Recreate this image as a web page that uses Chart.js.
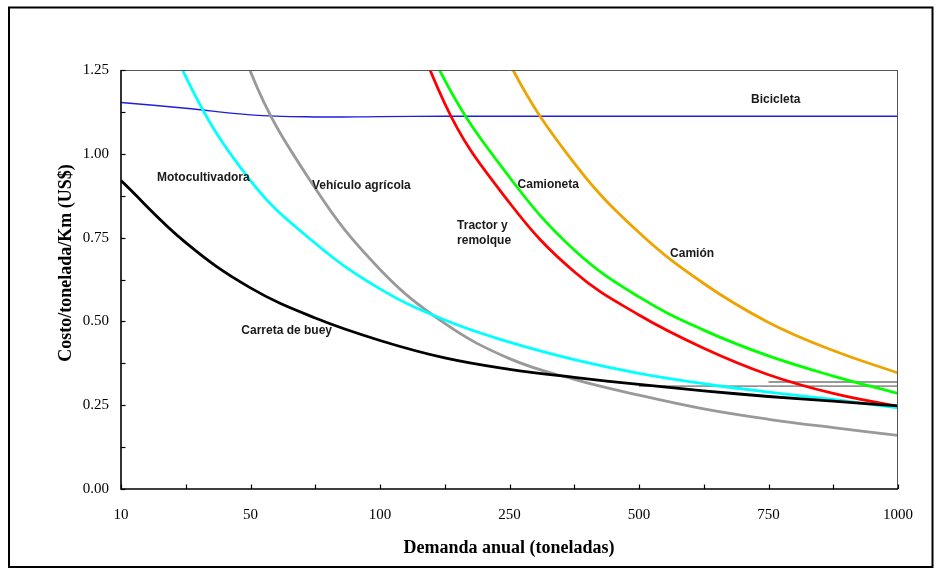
<!DOCTYPE html>
<html><head><meta charset="utf-8">
<script src="https://cdn.jsdelivr.net/npm/chart.js@4.4.1/dist/chart.umd.min.js"></script>
<style>html,body{margin:0;padding:0;background:#fff}#wrap{width:941px;height:575px;position:relative}</style>
</head><body><div id="wrap"><canvas id="c"></canvas></div>
<script>
// Category tick labels (one every second position on the demand axis)
const tickLabels = ['10','50','100','250','500','750','1000'];
// Positions along the demand axis (13 equally spaced ticks)
const positions = [0,1,2,3,4,5,6,7,8,9,10,11,12];

// Series values (cost per ton-km, US$) read at each position; null = not drawn
const carretaDeBuey   = [0.920,0.735,0.600,0.510,0.443,0.391,0.357,0.333,0.312,0.293,0.276,0.262,0.248];
const motocultivadora = [1.72,1.23,0.920,0.733,0.597,0.504,0.438,0.386,0.345,0.314,0.289,0.267,0.242];
const vehiculoAgricola= [null,1.85,1.245,0.897,0.655,0.494,0.389,0.327,0.280,0.239,0.208,0.183,0.160];
const tractorRemolque = [null,null,null,null,1.68,1.15,0.854,0.648,0.519,0.420,0.341,0.285,0.246];
const camioneta       = [null,null,null,null,1.66,1.22,0.930,0.713,0.573,0.474,0.397,0.337,0.285];
const camion          = [null,null,null,null,null,1.72,1.27,0.972,0.765,0.613,0.497,0.413,0.346];
const bicicleta       = [1.153,1.136,1.116,1.110,1.111,1.112,1.112,1.112,1.112,1.112,1.112,1.112,1.112];
const refLineUpper    = [null,null,null,null,null,null,null,null,null,null,0.319,0.319,0.319];
const refLineLower    = [null,null,null,null,null,null,null,null,0.307,0.307,0.307,0.307,0.307];

const yTicks = [0,0.25,0.5,0.75,1.0,1.25];

function pts(arr){ return positions.map((p,i)=>({x:p,y:arr[i]})); }
function ds(label, arr, color, w){
  return {label, data: pts(arr), borderColor: color, backgroundColor: color, borderWidth: w,
    pointRadius: 0, pointHoverRadius: 0, fill: false, tension: 0.4, spanGaps: false};
}

// Text annotations (label, x position in axis units, y value)
const notes = [
  {t:'Bicicleta', x:9.73, y:1.161},
  {t:'Motocultivadora', x:0.556, y:0.929},
  {t:'Vehículo agrícola', x:2.95, y:0.906},
  {t:'Camioneta', x:6.125, y:0.907},
  {t:'Tractor y', x:5.19, y:0.785},
  {t:'remolque', x:5.19, y:0.740},
  {t:'Camión', x:8.48, y:0.701},
  {t:'Carreta de buey', x:1.858, y:0.471}
];

const serif = '"Liberation Serif","Times New Roman",serif';
const sans = '"Liberation Sans",Arial,sans-serif';

const decor = {
  id: 'decor',
  beforeDraw(chart){
    const c = chart.ctx; c.save();
    c.fillStyle = '#fff'; c.fillRect(0,0,chart.width,chart.height);
    c.strokeStyle = '#000'; c.lineWidth = 2;
    c.strokeRect(9, 7.5, 923.5, 559.5);
    c.restore();
  },
  afterDatasetsDraw(chart){
    const c = chart.ctx, a = chart.chartArea, xs = chart.scales.x, ys = chart.scales.y;
    c.save();
    // plot frame
    c.strokeStyle = '#555'; c.lineWidth = 1;
    c.beginPath(); c.moveTo(a.left, a.top+0.5); c.lineTo(a.right, a.top+0.5); c.stroke();
    c.beginPath(); c.moveTo(a.right-0.5, a.top); c.lineTo(a.right-0.5, a.bottom); c.stroke();
    c.strokeStyle = '#000'; c.lineWidth = 1.6;
    c.beginPath(); c.moveTo(a.left, a.top); c.lineTo(a.left, a.bottom); c.lineTo(a.right, a.bottom); c.stroke();
    // ticks
    c.lineWidth = 1.2;
    for (let p = 0; p <= 12; p++){
      const x = Math.round(xs.getPixelForValue(p)) + 0.5;
      c.beginPath(); c.moveTo(x, a.bottom); c.lineTo(x, a.bottom-4.5); c.stroke();
    }
    for (let v = 0; v <= 1.25001; v += 0.125){
      const y = Math.round(ys.getPixelForValue(v)) + 0.5;
      c.beginPath(); c.moveTo(a.left, y); c.lineTo(a.left+4.5, y); c.stroke();
    }
    // series labels
    c.fillStyle = '#1a1a1a'; c.font = 'bold 12px ' + sans;
    c.textAlign = 'left'; c.textBaseline = 'middle';
    notes.forEach(n => c.fillText(n.t, xs.getPixelForValue(n.x), ys.getPixelForValue(n.y)));
    // axis titles
    c.fillStyle = '#000'; c.font = 'bold 18px ' + serif; c.textAlign = 'center';
    c.fillText('Demanda anual (toneladas)', 509, 548);
    c.translate(66, 263); c.rotate(-Math.PI/2);
    c.fillText('Costo/tonelada/Km (US$)', 0, 0);
    c.restore();
  }
};

new Chart(document.getElementById('c'), {
  type: 'line',
  data: { datasets: [
    ds('Carreta de buey', carretaDeBuey, '#000000', 2.8),
    ds('Motocultivadora', motocultivadora, '#00FFFF', 2.8),
    ds('Vehículo agrícola', vehiculoAgricola, '#999999', 2.8),
    ds('Tractor y remolque', tractorRemolque, '#FF0000', 2.8),
    ds('Camioneta', camioneta, '#00FF00', 2.8),
    ds('Camión', camion, '#EEA300', 2.8),
    ds('Bicicleta', bicicleta, '#1E1EE0', 1.4),
    ds('', refLineUpper, '#777777', 1.4),
    ds('', refLineLower, '#444444', 1.0)
  ]},
  options: {
    responsive: true, maintainAspectRatio: false, animation: false,
    layout: { padding: { top: 70, right: 43, left: 0, bottom: 0 } },
    plugins: { legend: { display: false }, tooltip: { enabled: false } },
    scales: {
      x: { type: 'linear', min: 0, max: 12,
        grid: { display: false, drawTicks: false }, border: { display: false },
        afterFit: s => { s.height = 86; },
        afterBuildTicks: s => { s.ticks = positions.map(p => ({value: p})); },
        ticks: { autoSkip: false, maxRotation: 0, padding: 17, color: '#000',
          font: { family: serif, size: 15 },
          callback: (v) => (v % 2 === 0 ? tickLabels[v/2] : '') } },
      y: { min: 0, max: 1.25,
        grid: { display: false, drawTicks: false }, border: { display: false },
        afterFit: s => { s.width = 121; },
        afterBuildTicks: s => { s.ticks = yTicks.map(v => ({value: v})); },
        ticks: { padding: 12, color: '#000', font: { family: serif, size: 15 },
          callback: v => Number(v).toFixed(2) } }
    }
  },
  plugins: [decor]
});
</script>
</body></html>
